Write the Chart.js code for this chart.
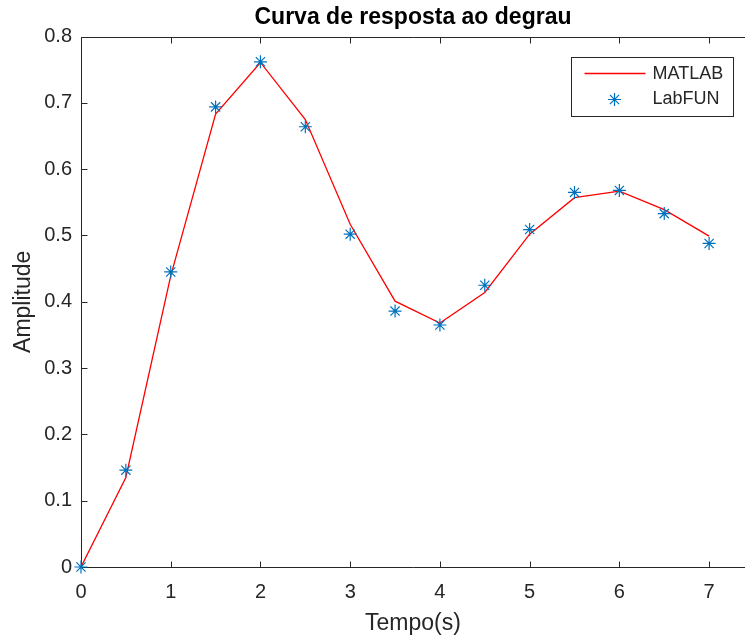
<!DOCTYPE html>
<html>
<head>
<meta charset="utf-8">
<script src="https://cdn.jsdelivr.net/npm/chart.js@4.4.0/dist/chart.umd.min.js"></script>
<style>
    html, body { margin: 0; padding: 0; background: #fff; overflow: hidden; }
</style>
</head>
<body>
<canvas id="stepChart" width="745" height="639"></canvas>
<script>
// Time samples (s)
const times = [0, 0.5, 1, 1.5, 2, 2.5, 3, 3.5, 4, 4.5, 5, 5.5, 6, 6.5, 7];
// MATLAB step response (red line)
const matlabValues = [0, 0.135, 0.439, 0.683, 0.761, 0.675, 0.517, 0.401, 0.368, 0.414, 0.502, 0.557, 0.567, 0.539, 0.499];
// LabFUN measurements (blue stars)
const labfunValues = [0, 0.146, 0.445, 0.694, 0.762, 0.664, 0.502, 0.386, 0.365, 0.425, 0.509, 0.565, 0.568, 0.533, 0.488];
// Tick values
const xTicks = [0, 1, 2, 3, 4, 5, 6, 7];
const yTicks = [0, 0.1, 0.2, 0.3, 0.4, 0.5, 0.6, 0.7, 0.8];

const FONT = '"Liberation Sans", Arial, Helvetica, sans-serif';
const AXIS_COLOR = '#262626';
const RED = '#ff0000';
const BLUE = '#0072bd';

Chart.defaults.font.family = FONT;

function toPoints(xs, ys) {
    return xs.map((t, i) => ({ x: t, y: ys[i] }));
}

function drawStar(ctx, cx, cy, r) {
    ctx.beginPath();
    for (let k = 0; k < 4; k++) {
        const a = k * Math.PI / 4;
        ctx.moveTo(cx - r * Math.cos(a), cy - r * Math.sin(a));
        ctx.lineTo(cx + r * Math.cos(a), cy + r * Math.sin(a));
    }
    ctx.stroke();
}

// MATLAB-like box with inward ticks
const axesBox = {
    id: 'axesBox',
    beforeDatasetsDraw(chart) {
        const { ctx, chartArea: a, scales: { x, y } } = chart;
        ctx.save();
        ctx.strokeStyle = AXIS_COLOR;
        ctx.lineWidth = 1;
        ctx.beginPath();
        const top = Math.round(a.top) + 0.5;
        const bottom = Math.round(a.bottom) + 0.5;
        const left = Math.round(a.left) + 0.5;
        ctx.moveTo(a.right + 2, top);
        ctx.lineTo(left, top);
        ctx.lineTo(left, bottom);
        ctx.lineTo(a.right + 2, bottom);
        xTicks.forEach(v => {
            const px = Math.round(x.getPixelForValue(v)) + 0.5;
            ctx.moveTo(px, bottom);
            ctx.lineTo(px, bottom - 6);
            ctx.moveTo(px, top);
            ctx.lineTo(px, top + 6);
        });
        yTicks.forEach(v => {
            const py = Math.round(y.getPixelForValue(v)) + 0.5;
            ctx.moveTo(left, py);
            ctx.lineTo(left + 6, py);
        });
        ctx.stroke();
        ctx.restore();
    }
};

// Legend box in the upper right corner
const legendBox = {
    id: 'legendBox',
    afterDraw(chart) {
        const { ctx, chartArea: a } = chart;
        const x0 = Math.round(a.left) + 490.5;
        const y0 = Math.round(a.top) + 20.5;
        const w = 162, h = 59;
        ctx.save();
        ctx.fillStyle = '#fff';
        ctx.fillRect(x0, y0, w, h);
        ctx.strokeStyle = AXIS_COLOR;
        ctx.lineWidth = 1;
        ctx.strokeRect(x0, y0, w, h);

        ctx.strokeStyle = RED;
        ctx.lineWidth = 1.3;
        ctx.beginPath();
        ctx.moveTo(x0 + 13, y0 + 16);
        ctx.lineTo(x0 + 74, y0 + 16);
        ctx.stroke();

        ctx.strokeStyle = BLUE;
        ctx.lineWidth = 1.2;
        drawStar(ctx, x0 + 43, y0 + 42, 6.5);

        ctx.fillStyle = AXIS_COLOR;
        ctx.font = '18px ' + FONT;
        ctx.textAlign = 'left';
        ctx.textBaseline = 'middle';
        ctx.fillText('MATLAB', x0 + 81, y0 + 17);
        ctx.fillText('LabFUN', x0 + 81, y0 + 42);
        ctx.restore();
    }
};

const ctx = document.getElementById('stepChart').getContext('2d');

const stepChart = new Chart(ctx, {
    type: 'line',
    data: {
        datasets: [{
            label: 'MATLAB',
            data: toPoints(times, matlabValues),
            borderColor: RED,
            borderWidth: 1.3,
            pointRadius: 0,
            tension: 0,
            fill: false,
            order: 2
        }, {
            label: 'LabFUN',
            data: toPoints(times, labfunValues),
            showLine: false,
            pointStyle: 'star',
            pointRadius: 6.5,
            pointBorderWidth: 1.2,
            pointBorderColor: BLUE,
            pointBackgroundColor: BLUE,
            clip: false,
            order: 1
        }]
    },
    options: {
        responsive: false,
        animation: false,
        events: [],
        layout: { padding: 0, autoPadding: false },
        plugins: {
            legend: { display: false },
            tooltip: { enabled: false },
            title: {
                display: true,
                text: 'Curva de resposta ao degrau',
                fullSize: false,
                color: '#000',
                font: { size: 23, weight: 'bold' },
                padding: { top: 4, bottom: 5 }
            }
        },
        scales: {
            x: {
                type: 'linear',
                min: 0,
                max: 7.4,
                grid: { display: false, drawTicks: false },
                border: { display: false },
                ticks: {
                    stepSize: 1,
                    includeBounds: false,
                    autoSkip: false,
                    maxRotation: 0,
                    padding: 13,
                    color: AXIS_COLOR,
                    font: { size: 20 }
                },
                title: {
                    display: true,
                    text: 'Tempo(s)',
                    color: AXIS_COLOR,
                    font: { size: 23 },
                    padding: { top: 0, bottom: 2 }
                },
                afterFit: function(scale) {
                    scale.height = 72;
                }
            },
            y: {
                min: 0,
                max: 0.8,
                grid: { display: false, drawTicks: false },
                border: { display: false },
                ticks: {
                    stepSize: 0.1,
                    padding: 9,
                    color: AXIS_COLOR,
                    font: { size: 20 },
                    callback: function(value) {
                        return String(Math.round(value * 10) / 10);
                    }
                },
                title: {
                    display: true,
                    text: 'Amplitude',
                    color: AXIS_COLOR,
                    font: { size: 23 },
                    padding: { top: 10, bottom: 0 }
                },
                afterFit: function(scale) {
                    scale.width = 81;
                }
            }
        }
    },
    plugins: [axesBox, legendBox]
});
</script>
</body>
</html>
